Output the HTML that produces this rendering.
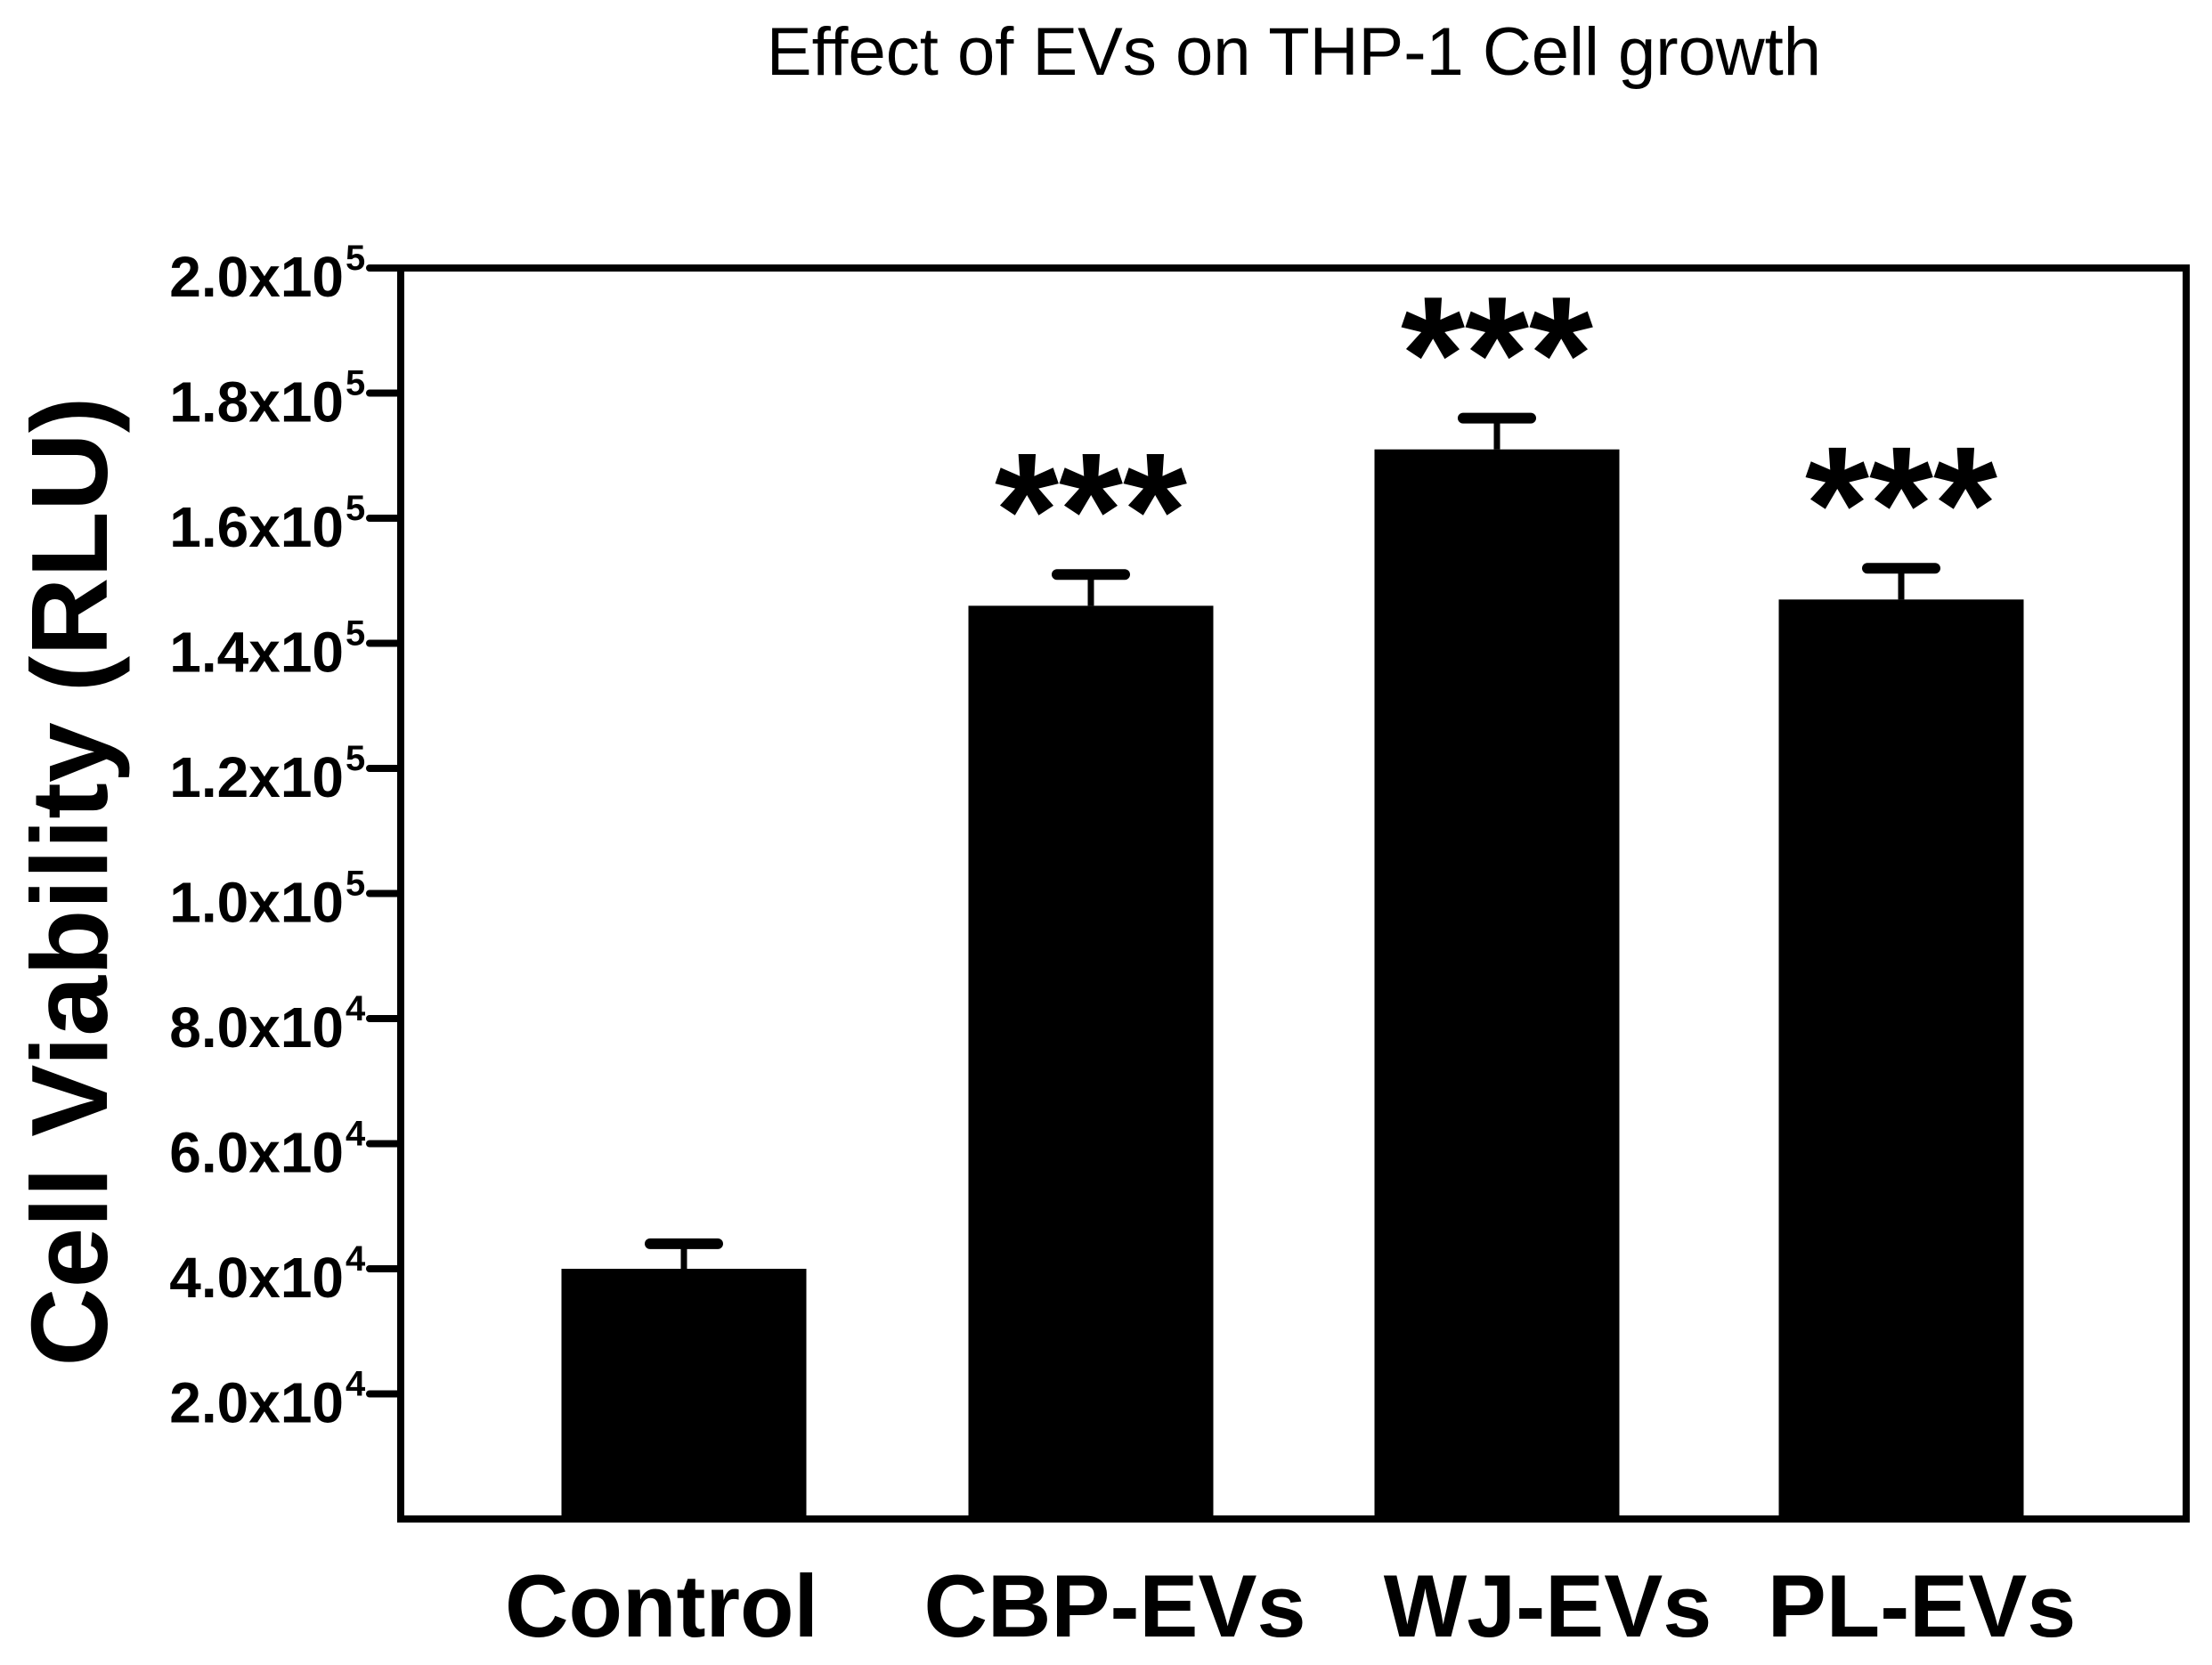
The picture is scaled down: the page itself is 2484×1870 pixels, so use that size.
<!DOCTYPE html>
<html><head><meta charset="utf-8"><style>
html,body{margin:0;padding:0;background:#fff;}
svg{display:block;font-family:"Liberation Sans",Arial,sans-serif;}
</style></head><body>
<svg id="chart" width="2484" height="1870" viewBox="0 0 2484 1870" xmlns="http://www.w3.org/2000/svg">
<text x="1453" y="84" font-size="76" text-anchor="middle" fill="#000">Effect of EVs on THP-1 Cell growth</text>
<text transform="translate(120,990) rotate(-90)" font-size="122" font-weight="bold" text-anchor="middle" fill="#000">Cell Viability (RLU)</text>
<g id="plot"></g>
</svg>
<script>
const categories = ["Control", "CBP-EVs", "WJ-EVs", "PL-EVs"];
const means = [40000, 146000, 171000, 147000];
const errors = [4000, 5000, 5000, 5000];
const significance = ["", "***", "***", "***"];
const tickValues = [20000, 40000, 60000, 80000, 100000, 120000, 140000, 160000, 180000, 200000];
const tickMantissa = ["2.0", "4.0", "6.0", "8.0", "1.0", "1.2", "1.4", "1.6", "1.8", "2.0"];
const tickExp = ["4", "4", "4", "4", "5", "5", "5", "5", "5", "5"];

const NS = "http://www.w3.org/2000/svg";
const g = document.getElementById("plot");
const L = 450, R = 2455, T = 301, B = 1706;
const yMax = 200000;
function y(v) { return B - (v / yMax) * (B - T); }
const barCenters = [768, 1225, 1681, 2135];
const barW = 275;
function x(i) { return barCenters[i]; }
const labelShift = [-25, 27, 57, 23];

function mk(tag, attrs) {
  const e = document.createElementNS(NS, tag);
  for (const k in attrs) e.setAttribute(k, attrs[k]);
  g.appendChild(e);
  return e;
}

let e = mk("rect", {x: L, y: T, width: R - L, height: B - T, fill: "none", stroke: "#000", "stroke-width": 8});


e = mk("line", {x1: 415, y1: T, x2: L, y2: T, stroke: "#000", "stroke-width": 8});



tickValues.forEach((v, i) => {
  const ty = y(v);
  let t = mk("line", {x1: 415, y1: ty, x2: L, y2: ty, stroke: "#000", "stroke-width": 8, "stroke-linecap": "round"});
  
  
  let lab = mk("text", {x: 386, y: ty + 32, "font-size": 64, "font-weight": "bold", "text-anchor": "end", fill: "#000"});
  
  
  lab.textContent = tickMantissa[i] + "x10";
  let sup = mk("text", {x: 388, y: ty + 2, "font-size": 40, "font-weight": "bold", "text-anchor": "start", fill: "#000"});
  
  
  sup.textContent = tickExp[i];
});

categories.forEach((c, i) => {
  const cx = x(i);
  const top = y(means[i]);
  let b = mk("rect", {x: cx - barW / 2, y: top, width: barW, height: B - top, fill: "#000"});
  
  
  const et = y(means[i] + errors[i]);
  let s = mk("line", {x1: cx, y1: top, x2: cx, y2: et, stroke: "#000", "stroke-width": 7});
  
  
  let cap = mk("line", {x1: cx - 38, y1: et, x2: cx + 38, y2: et, stroke: "#000", "stroke-width": 12, "stroke-linecap": "round"});
  
  
  if (significance[i]) {
    let st = mk("text", {x: cx, y: et - 8, "font-size": 185, "font-weight": "bold", "text-anchor": "middle", fill: "#000"});
    
    
    st.textContent = significance[i];
  }
  let xl = mk("text", {x: cx + labelShift[i], y: 1838, "font-size": 99, "font-weight": "bold", "text-anchor": "middle", fill: "#000"});
  
  
  xl.textContent = c;
});
</script>
</body></html>
